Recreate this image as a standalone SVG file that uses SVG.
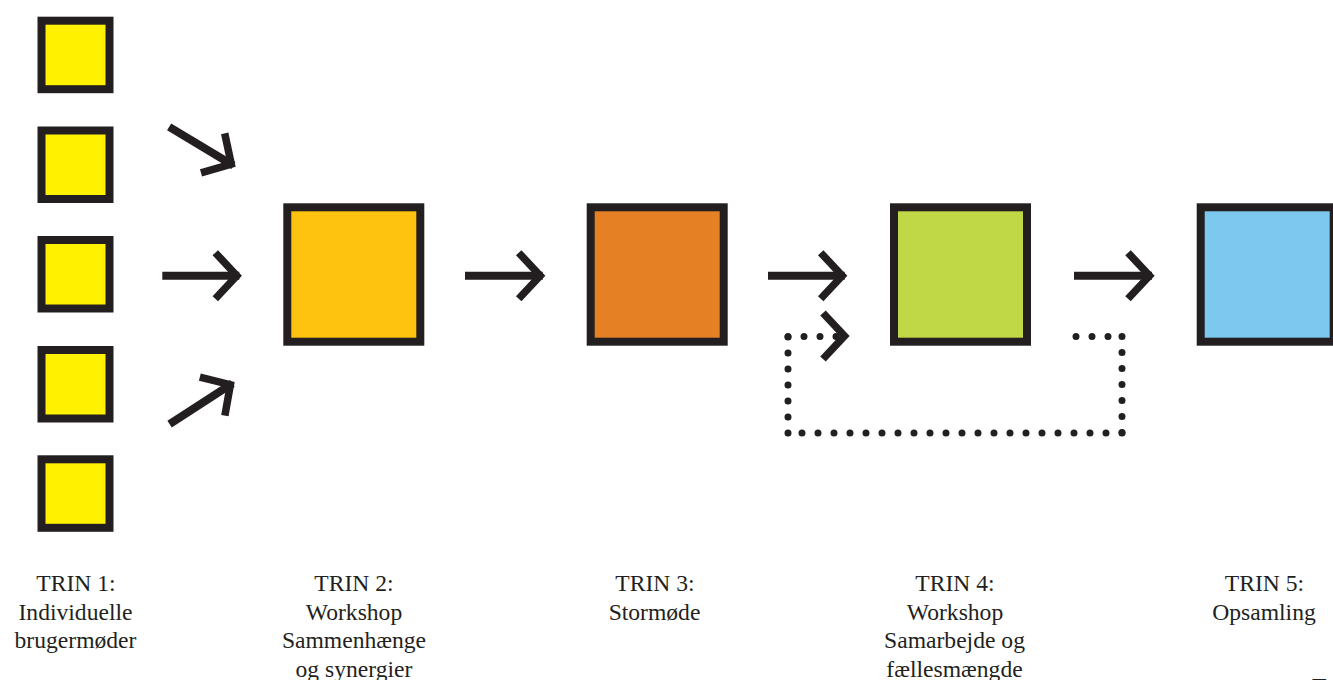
<svg xmlns="http://www.w3.org/2000/svg" width="1333" height="680" viewBox="0 0 1333 680">
  <style>
    .box { stroke: #231F20; stroke-width: 8; }
    .y { fill: #FFF100; }
    .lbl { font-family: "Liberation Serif", "Times New Roman", serif; font-size: 23.6px; fill: #231F20; text-anchor: middle; }
    .shaft { fill: none; stroke: #231F20; stroke-width: 8; stroke-linecap: butt; }
    .head { fill: none; stroke: #231F20; stroke-width: 7.5; stroke-linecap: butt; stroke-linejoin: miter; stroke-miterlimit: 10; }
    .dots { fill: none; stroke: #231F20; stroke-width: 7; stroke-linecap: round; stroke-dasharray: 0 16; }
  </style>
  <defs>
    <path id="ah" class="head" d="M -27 -23 L -5.5 0 L -27 23"/>
  </defs>
  <rect width="1333" height="680" fill="#FFFFFF"/>

  <g id="trin1">
    <rect class="box y" x="41.5" y="20.7" width="68" height="68.5"/>
    <rect class="box y" x="41.5" y="130.5" width="68" height="68.5"/>
    <rect class="box y" x="41.5" y="240" width="68" height="68.5"/>
    <rect class="box y" x="41.5" y="350" width="68" height="68.5"/>
    <rect class="box y" x="41.5" y="459.3" width="68" height="68.5"/>
    <text class="lbl" x="76" y="591">TRIN 1:</text>
    <text class="lbl" x="75.5" y="619.5">Individuelle</text>
    <text class="lbl" x="75.5" y="648">brugermøder</text>
  </g>

  <g id="trin2">
    <rect class="box" fill="#FEC30F" x="287.3" y="207.3" width="133" height="134.4"/>
    <text class="lbl" x="354" y="591">TRIN 2:</text>
    <text class="lbl" x="354" y="619.5">Workshop</text>
    <text class="lbl" x="354" y="648">Sammenhænge</text>
    <text class="lbl" x="354" y="676.5">og synergier</text>
  </g>

  <g id="trin3">
    <rect class="box" fill="#E58025" x="590.7" y="207.3" width="133" height="134.4"/>
    <text class="lbl" x="655" y="591">TRIN 3:</text>
    <text class="lbl" x="654.5" y="619.5">Stormøde</text>
  </g>

  <g id="trin4">
    <rect class="box" fill="#C0D846" x="894" y="207.3" width="133" height="134.4"/>
    <text class="lbl" x="955" y="591">TRIN 4:</text>
    <text class="lbl" x="955" y="619.5">Workshop</text>
    <text class="lbl" x="954.5" y="648">Samarbejde og</text>
    <text class="lbl" x="954.5" y="676.5">fællesmængde</text>
  </g>

  <g id="trin5">
    <rect class="box" fill="#7DC8EE" x="1200.7" y="207.3" width="133" height="134.4"/>
    <text class="lbl" x="1264.5" y="591">TRIN 5:</text>
    <text class="lbl" x="1264" y="619.5">Opsamling</text>
  </g>

  <g id="trin6-fragment">
    <text class="lbl" x="1312" y="694" style="text-anchor:start">T</text>
  </g>

  <g id="connectors">
    <g transform="translate(236,167) rotate(31)">
      <path class="shaft" d="M -78 0 H -3"/>
      <use href="#ah"/>
    </g>
    <g transform="translate(242.3,275.7)">
      <path class="shaft" d="M -80 0 H -3"/>
      <use href="#ah"/>
    </g>
    <g transform="translate(235,381.7) rotate(-33)">
      <path class="shaft" d="M -78 0 H -3"/>
      <use href="#ah"/>
    </g>
    <g transform="translate(545.7,275.7)">
      <path class="shaft" d="M -80.7 0 H -3"/>
      <use href="#ah"/>
    </g>
    <g transform="translate(847.7,275.7)">
      <path class="shaft" d="M -79.7 0 H -3"/>
      <use href="#ah"/>
    </g>
    <g transform="translate(1155,275.7)">
      <path class="shaft" d="M -81 0 H -3"/>
      <use href="#ah"/>
    </g>
    <g id="feedback">
      <path class="dots" d="M 1076 336.5 H 1123"/>
      <path class="dots" d="M 1122 336.5 V 434"/>
      <path class="dots" d="M 1122 433 H 787"/>
      <path class="dots" d="M 788 433 V 335"/>
      <path class="dots" d="M 788 336.5 H 846"/>
      <g transform="translate(850,336)">
        <use href="#ah"/>
      </g>
    </g>
  </g>
</svg>
